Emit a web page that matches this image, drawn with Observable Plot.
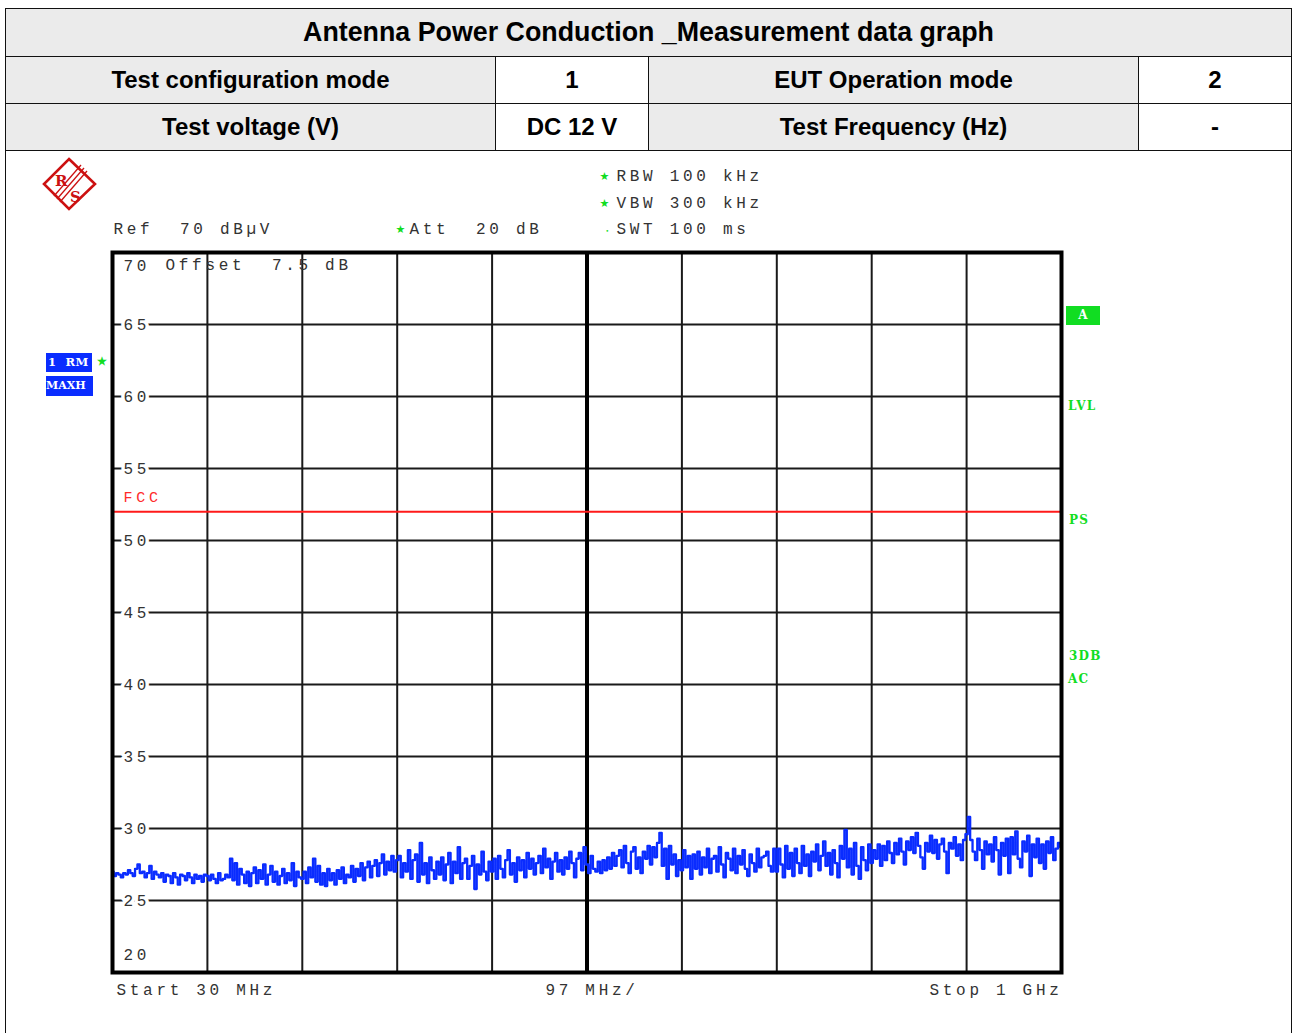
<!DOCTYPE html>
<html>
<head>
<meta charset="utf-8">
<script src="https://cdn.jsdelivr.net/npm/d3@7"></script>
<script src="https://cdn.jsdelivr.net/npm/@observablehq/plot@0.6"></script>
<style>
  html, body { margin: 0; padding: 0; background: #fff; width: 1293px; height: 1033px; overflow: hidden; }
  .cell { position: absolute; box-sizing: border-box; border: 1.5px solid #111; font-family: "Liberation Sans", Arial, sans-serif; font-weight: bold; color: #000; text-align: center; white-space: nowrap; }
  .gray { background: #ebebeb; }
  .white { background: #fff; }
  .grn { position: absolute; font-family: "DejaVu Serif", serif; font-weight: bold; font-size: 12px; color: #11dd22; line-height: 14px; letter-spacing: 1.2px; }
  .blu { position: absolute; background: #0a2cff; color: #fff; font-family: "DejaVu Serif", serif; font-weight: bold; font-size: 11.5px; box-sizing: border-box; overflow: hidden; white-space: pre; }
</style>
</head>
<body>
<div id="chart" style="position:absolute;left:0;top:150px;"></div>

<div class="cell gray" style="left:5px;top:8px;width:1287px;height:49px;font-size:26.8px;line-height:46px;">Antenna Power Conduction _Measurement data graph</div>
<div class="cell gray" style="left:5px;top:56px;width:491px;height:48px;font-size:24px;line-height:45px;">Test configuration mode</div>
<div class="cell white" style="left:495px;top:56px;width:154px;height:48px;font-size:24px;line-height:45px;">1</div>
<div class="cell gray" style="left:648px;top:56px;width:491px;height:48px;font-size:24px;line-height:45px;">EUT Operation mode</div>
<div class="cell white" style="left:1138px;top:56px;width:154px;height:48px;font-size:24px;line-height:45px;">2</div>
<div class="cell gray" style="left:5px;top:103px;width:491px;height:48px;font-size:24px;line-height:45px;">Test voltage (V)</div>
<div class="cell white" style="left:495px;top:103px;width:154px;height:48px;font-size:24px;line-height:45px;">DC 12 V</div>
<div class="cell gray" style="left:648px;top:103px;width:491px;height:48px;font-size:24px;line-height:45px;">Test Frequency (Hz)</div>
<div class="cell white" style="left:1138px;top:103px;width:154px;height:48px;font-size:24px;line-height:45px;">-</div>
<div style="position:absolute;left:5px;top:150px;width:1287px;height:900px;box-sizing:border-box;border-left:1.5px solid #111;border-right:1.5px solid #111;border-top:1.5px solid #111;"></div>

<!-- R&S logo -->
<svg style="position:absolute;left:38px;top:152px;" width="64" height="64" viewBox="38 152 64 64">
  <polygon points="69,159 95,184 69,209 44,184" fill="none" stroke="#cc1111" stroke-width="2.6"/>
  <g stroke="#cc1111" stroke-width="1.3">
    <line x1="84" y1="168" x2="57" y2="199"/>
    <line x1="81" y1="165" x2="54" y2="196"/>
    <line x1="87" y1="171" x2="60" y2="202"/>
  </g>
  <text x="55" y="186" font-family="DejaVu Serif" font-size="15" fill="#cc1111" font-weight="bold">R</text>
  <text x="70" y="202" font-family="DejaVu Serif" font-size="15" fill="#cc1111" font-weight="bold">S</text>
</svg>

<!-- trace badges -->
<div class="blu" style="left:46px;top:353px;width:46px;height:19px;line-height:19px;padding-left:2px;letter-spacing:0.5px;">1  RM</div>
<div class="grn" style="left:97px;top:355px;font-size:11px;">&#9733;</div>
<div class="blu" style="left:46px;top:376px;width:47px;height:20px;line-height:20px;font-size:11px;">MAXH</div>

<!-- right side status labels -->
<div style="position:absolute;left:1066px;top:306px;width:34px;height:19px;background:#11dd22;color:#fff;font-family:'DejaVu Serif',serif;font-weight:bold;font-size:12px;line-height:19px;text-align:center;">A</div>
<div class="grn" style="left:1068px;top:399px;">LVL</div>
<div class="grn" style="left:1069px;top:513px;">PS</div>
<div class="grn" style="left:1069px;top:649px;">3DB</div>
<div class="grn" style="left:1068px;top:672px;">AC</div>

<script>
// ---- data ----
const startMHz = 30;
const stopMHz = 1000;
const refLevel = 70;
const bottomLevel = 20;
const yTickValues = [65, 60, 55, 50, 45, 40, 35, 30, 25];
const xDivisions = [30, 127, 224, 321, 418, 515, 612, 709, 806, 903, 1000];
const centerDivision = [515];
const fccLimit = 52;

// MAXH trace levels (dBµV), 401 sweep points from 30 MHz to 1 GHz
const levels = [
  27.0,26.7,26.9,26.8,26.6,26.9,26.8,27.1,26.9,26.7,
  27.2,27.5,26.9,27.0,26.6,26.9,27.4,26.5,27.0,26.8,
  26.6,26.9,26.3,26.8,26.7,26.2,26.9,26.6,26.1,26.8,
  26.7,26.4,26.9,26.6,26.2,26.8,26.5,26.7,26.3,26.8,
  26.7,26.4,26.8,26.5,26.2,26.9,26.4,26.5,26.8,26.6,
  27.9,26.4,27.6,26.1,27.2,26.8,26.2,27.0,26.0,26.9,
  27.3,26.2,27.1,26.5,27.5,26.1,26.8,27.4,26.3,27.0,
  26.1,26.7,27.2,26.2,26.9,26.4,27.6,26.0,27.0,26.6,
  26.5,27.0,26.2,27.3,26.6,27.9,26.3,27.4,26.1,26.9,
  26.0,27.2,26.4,26.9,26.1,27.1,26.5,27.3,26.2,26.8,
  26.6,27.4,26.3,27.2,26.7,27.6,26.4,27.3,27.7,26.6,
  27.4,27.8,26.7,27.6,28.2,26.8,27.7,27.1,28.1,27.0,
  27.8,28.1,26.6,27.6,27.0,28.5,26.5,27.8,28.2,26.3,
  29.0,26.8,27.6,26.2,28.0,27.1,26.5,27.7,26.8,28.0,
  26.4,27.5,28.3,26.2,27.7,26.9,28.7,26.5,27.6,27.9,
  26.5,27.4,28.1,25.8,27.5,26.8,28.4,27.0,26.4,27.7,
  27.0,27.9,26.5,28.1,27.2,26.6,27.8,28.5,26.8,27.6,
  26.3,28.0,27.1,27.8,26.6,28.3,27.2,27.9,26.8,27.6,
  28.1,26.9,28.6,27.3,27.9,26.5,27.7,28.3,27.0,27.8,
  26.8,28.0,27.2,28.4,27.6,26.6,27.9,28.3,27.1,28.7,
  27.5,26.9,28.1,27.2,27.0,27.7,26.9,27.8,27.1,28.0,
  27.2,28.3,27.4,28.1,28.5,27.3,28.8,27.6,26.9,28.4,
  28.7,27.2,28.0,26.9,28.4,27.9,28.8,27.5,28.7,28.0,
  29.0,29.7,27.4,28.6,26.5,28.8,27.5,28.2,26.7,27.8,
  27.1,28.5,27.3,28.1,26.5,28.2,27.2,28.4,26.8,28.0,
  27.3,28.6,26.9,27.9,28.1,27.0,28.7,27.5,26.6,28.3,
  27.9,27.1,28.6,26.9,28.1,27.5,28.5,27.2,26.7,28.2,
  27.6,27.0,28.6,27.3,28.0,28.1,28.4,27.4,27.0,28.6,
  27.0,28.6,27.5,26.6,28.8,27.2,28.3,26.7,28.6,27.6,
  26.9,28.8,27.4,28.2,26.7,28.4,27.7,28.9,27.1,28.1,
  29.1,27.4,28.3,26.8,28.5,27.6,26.6,28.8,27.9,29.9,
  27.3,28.6,26.8,29.0,27.4,26.5,28.7,27.8,27.1,28.9,
  27.6,28.5,27.9,28.9,27.4,28.8,27.8,29.1,28.3,27.6,
  29.0,28.2,29.3,28.4,27.5,29.1,28.5,29.4,28.3,29.7,
  28.8,28.0,27.2,29.0,28.4,29.5,28.3,29.2,27.9,28.9,
  29.3,28.4,26.9,29.0,28.6,29.4,28.1,28.9,27.8,29.2,
  29.6,30.8,29.2,28.4,27.8,29.3,28.5,27.2,29.1,28.2,
  28.9,27.7,29.4,28.5,26.8,29.0,28.1,29.3,26.9,29.4,
  28.2,29.8,27.9,27.3,29.1,28.4,29.5,26.7,28.9,28.0,
  29.3,27.6,28.9,27.2,29.1,28.3,29.4,27.8,28.6,29.0,
  28.7
];

const headerLeft = ["Ref  70 dBµV"];
const attText = ["Att  20 dB"];
const rbwText = ["RBW 100 kHz"];
const vbwText = ["VBW 300 kHz"];
const swtText = ["SWT 100 ms"];
const offsetText = ["Offset  7.5 dB"];
const startText = ["Start 30 MHz"];
const spanText = ["97 MHz/"];
const stopText = ["Stop 1 GHz"];
const limitName = ["FCC"];

// sweep table
const step = (stopMHz - startMHz) / (levels.length - 1);
const trace = levels.map((v, i) => ({f: startMHz + i * step, v}));

const grey = "#333";
const green = "#11dd22";
const star = (dx, dy) => Plot.text(["★"], {frameAnchor: "top-left", text: d => d, textAnchor: "start", lineAnchor: "middle", dx, dy, fill: green, fontSize: 11, fontFamily: "DejaVu Sans"});
const label = (arr, anchor, ta, dx, dy, extra = {}) => Plot.text(arr, {frameAnchor: anchor, text: d => d, textAnchor: ta, lineAnchor: "middle", dx, dy, fill: grey, ...extra});

const chart = Plot.plot({
  width: 1293,
  height: 883,
  marginLeft: 112,
  marginRight: 232,
  marginTop: 102,
  marginBottom: 61,
  x: {domain: [startMHz, stopMHz], axis: null},
  y: {domain: [bottomLevel, refLevel], axis: null},
  style: {fontFamily: "'Liberation Mono', 'DejaVu Sans Mono', monospace", fontSize: "16px", letterSpacing: "3.7px", whiteSpace: "pre", background: "transparent", color: grey, overflow: "visible"},
  marks: [
    Plot.ruleY(yTickValues, {y: d => d, x1: startMHz, x2: stopMHz, stroke: "#1a1a1a", strokeWidth: 2}),
    Plot.ruleX(xDivisions, {x: d => d, y1: bottomLevel, y2: refLevel, stroke: "#1a1a1a", strokeWidth: 2}),
    Plot.ruleX(centerDivision, {x: d => d, y1: bottomLevel, y2: refLevel, stroke: "#000", strokeWidth: 4}),
    Plot.ruleY([fccLimit], {y: d => d, x1: startMHz, x2: stopMHz, stroke: "#ff1a1a", strokeWidth: 2}),
    Plot.line(trace, {x: "f", y: "v", curve: "step", stroke: "#0a2cff", strokeWidth: 2.3}),
    Plot.frame({stroke: "#000", strokeWidth: 4}),
    // y tick labels
    Plot.text(yTickValues, {x: startMHz, y: d => d, text: d => String(d), textAnchor: "start", lineAnchor: "middle", dx: 11, fill: grey, stroke: "white", strokeWidth: 7, paintOrder: "stroke"}),
    Plot.text([refLevel], {x: startMHz, y: d => d, text: d => String(d), textAnchor: "start", lineAnchor: "middle", dx: 11, dy: 13, fill: grey}),
    Plot.text([bottomLevel], {x: startMHz, y: d => d, text: d => String(d), textAnchor: "start", lineAnchor: "middle", dx: 11, dy: -18, fill: grey}),
    label(offsetText, "top-left", "start", 53, 12),
    // limit line label
    Plot.text(limitName, {x: startMHz, y: fccLimit, text: d => d, textAnchor: "start", lineAnchor: "middle", dx: 11, dy: -15, fill: "#ff2a2a", fontSize: 15}),
    // header texts
    label(headerLeft, "top-left", "start", 1, -24),
    label(attText, "top-left", "start", 297, -24),
    star(283, -23),
    label(rbwText, "top-left", "start", 504, -77),
    star(487, -76),
    label(vbwText, "top-left", "start", 504, -50),
    star(487, -49),
    label(swtText, "top-left", "start", 504, -24),
    Plot.text(["•"], {frameAnchor: "top-left", text: d => d, textAnchor: "start", lineAnchor: "middle", dx: 493, dy: -21, fill: green, fontSize: 6, fontFamily: "DejaVu Sans"}),
    // bottom texts
    label(startText, "bottom-left", "start", 4, 17),
    label(spanText, "bottom", "middle", 5, 17),
    label(stopText, "bottom-right", "end", 1, 17)
  ]
});
document.getElementById("chart").appendChild(chart);
</script>
</body>
</html>
